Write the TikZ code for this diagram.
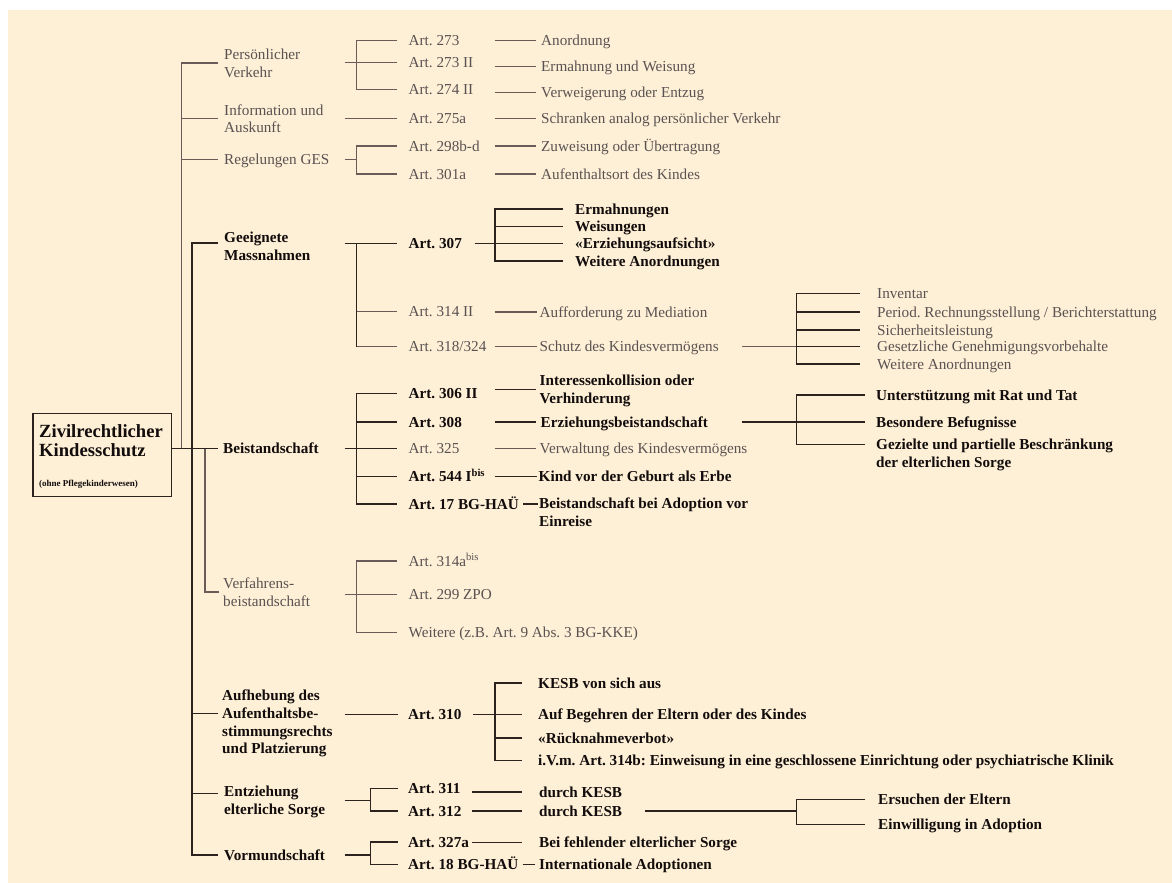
\documentclass[tikz,border=0pt]{standalone}
\usepackage{fontspec}
\setmainfont{Liberation Serif}
\frenchspacing
\definecolor{cream}{RGB}{254,240,214}
\definecolor{gtx}{RGB}{90,82,82}
\definecolor{gln}{RGB}{105,92,88}
\definecolor{dln}{RGB}{45,35,30}
\definecolor{dtx}{RGB}{18,12,12}
\tikzset{
 gl/.style={draw=gln, line width=1.2pt},
 dl/.style={draw=dln, line width=1.3pt},
 basetxt/.style={anchor=west, inner sep=0pt, font=\fontsize{15.2}{17.7}\selectfont},
 gt/.style={basetxt, text=gtx, text height=10pt, text depth=0pt},
 bt/.style={basetxt, font=\fontsize{15.2}{17.7}\selectfont\bfseries, text=dtx, text height=10pt, text depth=0pt},
 gmul/.style={basetxt, text=gtx, align=left, text depth=0pt},
 bmul/.style={basetxt, font=\fontsize{15.2}{17.7}\selectfont\bfseries, text=dtx, align=left, text depth=0pt},
}
\begin{document}
\begin{tikzpicture}[x=1pt,y=-1pt]
\useasboundingbox (0,0) rectangle (1172,883);
\fill[white] (0,0) rectangle (1172,883);
\fill[cream] (8.3,10) rectangle (1172,883);

% root
\node[draw=dln, line width=1.3pt, anchor=north west, minimum width=138.4pt, minimum height=83pt, inner sep=0pt] (root) at (32.3,413) {};
\node[anchor=north west, inner sep=0pt, align=left, font=\fontsize{18.6}{19.3}\selectfont\bfseries, text=dtx] (rootT) at (39,424.5) {Zivilrechtlicher\\Kindesschutz};
\node[anchor=base west, inner sep=0pt, font=\fontsize{9}{10}\selectfont\bfseries, text=dtx] (rootS) at (39,486.5) {(ohne Pflegekinderwesen)};

% level 1
\node[gmul] (nPV) at (224,63) {Persönlicher\\Verkehr};
\node[gmul] (nIA) at (224,118.5) {Information und\\Auskunft};
\node[gt] (nRG) at (224,159.5) {Regelungen GES};
\node[bmul] (nGM) at (224,246) {Geeignete\\Massnahmen};
\node[bt] (nBS) at (223,448.5) {Beistandschaft};
\node[gmul] (nVB) at (223,592) {Verfahrens-\\beistandschaft};
\node[bmul] (nAH) at (222,722) {Aufhebung des\\Aufenthaltsbe-\\stimmungsrechts\\und Platzierung};
\node[bmul] (nES) at (224,800.5) {Entziehung\\elterliche Sorge};
\node[bt] (nVM) at (224,855) {Vormundschaft};

% level 2
\node[gt] (a273) at (408.5,40.7) {Art. 273};
\node[gt] (a2732) at (408.5,62.7) {Art. 273 II};
\node[gt] (a274) at (408.5,89.5) {Art. 274 II};
\node[gt] (a275) at (408.5,118.3) {Art. 275a};
\node[gt] (a298) at (408.5,146) {Art. 298b-d};
\node[gt] (a301) at (408.5,174) {Art. 301a};
\node[bt] (a307) at (408.5,243.5) {Art. 307};
\node[gt] (a314) at (408.5,311.7) {Art. 314 II};
\node[gt] (a318) at (408.5,346.5) {Art. 318/324};
\node[bt] (a306) at (408.5,393.5) {Art. 306 II};
\node[bt] (a308) at (408.5,422) {Art. 308};
\node[gt] (a325) at (408.5,448.5) {Art. 325};
\node[bt] (a544) at (408.5,476.5) {Art. 544 I\textsuperscript{bis}};
\node[bt] (a17) at (408.5,504) {Art. 17 BG-HAÜ};
\node[gt] (a314a) at (408.5,561) {Art. 314a\textsuperscript{bis}};
\node[gt] (a299) at (408.5,594.5) {Art. 299 ZPO};
\node[gt] (awe) at (408.5,632.3) {Weitere (z.B. Art. 9 Abs. 3 BG-KKE)};
\node[bt] (a310) at (408,714.5) {Art. 310};
\node[bt] (a311) at (408,788.5) {Art. 311};
\node[bt] (a312) at (408,811) {Art. 312};
\node[bt] (a327) at (408,842) {Art. 327a};
\node[bt] (a18) at (408,864.5) {Art. 18 BG-HAÜ};

% level 3
\node[gt] (r1) at (541,40.7) {Anordnung};
\node[gt] (r2) at (541,66.5) {Ermahnung und Weisung};
\node[gt] (r3) at (541,92.5) {Verweigerung oder Entzug};
\node[gt] (r4) at (541,118.5) {Schranken analog persönlicher Verkehr};
\node[gt] (r5) at (541,146) {Zuweisung oder Übertragung};
\node[gt] (r6) at (541,174) {Aufenthaltsort des Kindes};
\node[bt] (e1) at (575,209) {Ermahnungen};
\node[bt] (e2) at (575,226.5) {Weisungen};
\node[bt] (e3) at (575,243.5) {«Erziehungsaufsicht»};
\node[bt] (e4) at (575,261) {Weitere Anordnungen};
\node[gt] (r7) at (539.5,312) {Aufforderung zu Mediation};
\node[gt] (r8) at (539.5,346.5) {Schutz des Kindesvermögens};
\node[gt] (i1) at (877,293.3) {Inventar};
\node[gt] (i2) at (877,312) {Period. Rechnungsstellung / Berichterstattung};
\node[gt] (i3) at (877,330) {Sicherheitsleistung};
\node[gt] (i4) at (877,346.5) {Gesetzliche Genehmigungsvorbehalte};
\node[gt] (i5) at (877,364) {Weitere Anordnungen};
\node[bmul] (x1) at (539.5,389.5) {Interessenkollision oder\\Verhinderung};
\node[bt] (x2) at (540.5,422) {Erziehungsbeistandschaft};
\node[gt] (x3) at (539.5,448.5) {Verwaltung des Kindesvermögens};
\node[bt] (x4) at (538.5,476.5) {Kind vor der Geburt als Erbe};
\node[bmul] (x5) at (539,512) {Beistandschaft bei Adoption vor\\Einreise};
\node[bt] (u1) at (876,395) {Unterstützung mit Rat und Tat};
\node[bt] (u2) at (876,422) {Besondere Befugnisse};
\node[bmul] (u3) at (876,453) {Gezielte und partielle Beschränkung\\der elterlichen Sorge};
\node[bt] (k1) at (538,683) {KESB von sich aus};
\node[bt] (k2) at (538,714.5) {Auf Begehren der Eltern oder des Kindes};
\node[bt] (k3) at (538,738) {«Rücknahmeverbot»};
\node[bt] (k4) at (538,760.7) {i.V.m. Art. 314b: Einweisung in eine geschlossene Einrichtung oder psychiatrische Klinik};
\node[bt] (d1) at (539,792) {durch KESB};
\node[bt] (d2) at (539,811) {durch KESB};
\node[bt] (s1) at (878,799.5) {Ersuchen der Eltern};
\node[bt] (s2) at (878,824.5) {Einwilligung in Adoption};
\node[bt] (v1) at (539,842.5) {Bei fehlender elterlicher Sorge};
\node[bt] (v2) at (539,864.5) {Internationale Adoptionen};

% coordinates of trunks and brackets
\coordinate (tG) at (181.7,0);
\coordinate (tD) at (192,0);
\coordinate (tV) at (205,0);
\coordinate (c2) at (344.5,0);
\coordinate (bk2) at (356.7,0);
\coordinate (bke) at (370.3,0);
\coordinate (c3) at (494.5,0);
\coordinate (bk3) at (495,0);
\coordinate (c3b) at (471.5,0);
\coordinate (c4) at (742,0);
\coordinate (bk4) at (796.5,0);
\coordinate (c5) at (645.4,0);

% trunks
\draw[gl] ([xshift=-6pt]nPV.west) -- (nPV.west -| tG) -- (tG |- nBS.west);
\draw[gl] ([xshift=-6pt]nIA.west) -- (nIA.west -| tG);
\draw[gl] ([xshift=-6pt]nRG.west) -- (nRG.west -| tG);
\coordinate (gmL) at ([xshift=-6pt,yshift=3pt]nGM.west);
\draw[dl] (gmL) -- (gmL -| tD) -- (tD |- nVM.west) -- ([xshift=-6pt]nVM.west);
\coordinate (ahL) at ([xshift=-4pt,yshift=8.5pt]nAH.west);
\draw[dl] (ahL) -- (ahL -| tD);
\coordinate (esL) at ([xshift=-6pt,yshift=7pt]nES.west);
\draw[dl] (esL) -- (esL -| tD);
\draw[dl] (root.east |- nBS.west) -- ([xshift=-5pt]nBS.west);
\draw[gl] (tV |- nBS.west) -- (tV |- nVB.west) -- ([xshift=-4pt]nVB.west);

% level 2 brackets
\draw[gl] (a2732.west -| c2) -- ([xshift=-11.5pt]a2732.west);
\draw[gl] ([xshift=-11.5pt]a273.west) -- (a273.west -| bk2) -- (a274.west -| bk2) -- ([xshift=-11.5pt]a274.west);
\draw[gl] (a275.west -| c2) -- ([xshift=-11.5pt]a275.west);
\draw[gl] ([xshift=-11.5pt]a298.west) -- (a298.west -| bk2) -- (a301.west -| bk2) -- ([xshift=-11.5pt]a301.west);
\draw[gl] (nRG.west -| c2) -- (nRG.west -| bk2);
\draw[dl] (a307.west -| c2) -- ([xshift=-11.5pt]a307.west);
\draw[dl] (a307.west -| bk2) -- (a318.west -| bk2);
\draw[gl] (a314.west -| bk2) -- ([xshift=-11.5pt]a314.west);
\draw[gl] (a318.west -| bk2) -- ([xshift=-11.5pt]a318.west);
\draw[dl] ([xshift=-11.5pt]a306.west) -- (a306.west -| bk2) -- (a17.west -| bk2) -- ([xshift=-11.5pt]a17.west);
\draw[dl] (a308.west -| bk2) -- ([xshift=-11.5pt]a308.west);
\draw[dl] (a325.west -| c2) -- ([xshift=-11.5pt]a325.west);
\draw[dl] (a544.west -| bk2) -- ([xshift=-11.5pt]a544.west);
\draw[gl] ([xshift=-11.5pt]a314a.west) -- (a314a.west -| bk2) -- (awe.west -| bk2) -- ([xshift=-11.5pt]awe.west);
\draw[gl] (a299.west -| c2) -- ([xshift=-11.5pt]a299.west);
\draw[dl] (a310.west -| c2) -- ([xshift=-10.5pt]a310.west);
\draw[dl] (c2 |- nES.west) -- (bke |- nES.west);
\draw[dl] ([xshift=-10.5pt]a311.west) -- (a311.west -| bke) -- (a312.west -| bke) -- ([xshift=-10.5pt]a312.west);
\draw[dl] (c2 |- nVM.west) -- (bke |- nVM.west);
\draw[dl] ([xshift=-10.5pt]a327.west) -- (a327.west -| bke) -- (a18.west -| bke) -- ([xshift=-10.5pt]a18.west);

% level 3 connectors
\foreach \n in {r1,r2,r3,r4,r5,r6} {\draw[gl] (\n.west -| c3) -- ([xshift=-5pt]\n.west);}
\coordinate (a307R) at ([xshift=12.5pt]a307.east);
\draw[dl] (a307R) -- ([xshift=-12pt]e3.west);
\draw[dl] ([xshift=-12pt]e1.west) -- (e1.west -| bk3) -- (e4.west -| bk3) -- ([xshift=-12pt]e4.west);
\draw[dl] (e2.west -| bk3) -- ([xshift=-12pt]e2.west);
\draw[gl] (r7.west -| c3) -- ([xshift=-3pt]r7.west);
\draw[gl] (r8.west -| c3) -- ([xshift=-3pt]r8.west);
\draw[gl] (c4 |- i4.west) -- (bk4 |- i4.west);
\draw[dl] ([xshift=-17pt]i1.west) -- (i1.west -| bk4) -- (i5.west -| bk4) -- ([xshift=-17pt]i5.west);
\foreach \n in {i2,i3,i4} {\draw[dl] (\n.west -| bk4) -- ([xshift=-17pt]\n.west);}
\draw[dl] (c3 |- x1.west) -- ([xshift=-3.5pt]x1.west);
\draw[dl] (c3 |- x2.west) -- ([xshift=-4.5pt]x2.west);
\draw[gl] (c3 |- x3.west) -- ([xshift=-3.5pt]x3.west);
\draw[dl] (c3 |- x4.west) -- ([xshift=-2pt]x4.west);
\coordinate (x5L) at ([yshift=8pt]x5.west);
\coordinate (a17R) at ([xshift=4pt]a17.east);
\draw[dl] (a17R |- x5L) -- ([xshift=-1.5pt]x5L);
\draw[dl] (c4 |- x2.west) -- (bk4 |- x2.west);
\coordinate (u3L) at ([yshift=8.5pt]u3.west);
\draw[dl] ([xshift=-11pt]u1.west) -- (u1.west -| bk4) -- (u3L -| bk4) -- ([xshift=-11pt]u3L);
\draw[dl] (u2.west -| bk4) -- ([xshift=-11pt]u2.west);
\coordinate (a310R) at ([xshift=11.5pt]a310.east);
\draw[dl] (a310R) -- ([xshift=-16.5pt]k2.west);
\draw[dl] ([xshift=-16.5pt]k1.west) -- (k1.west -| bk3) -- (k4.west -| bk3) -- ([xshift=-16.5pt]k4.west);
\draw[dl] (k3.west -| bk3) -- ([xshift=-16.5pt]k3.west);
\draw[dl] (c3b |- d1.west) -- ([xshift=-17.5pt]d1.west);
\draw[dl] (c3b |- d2.west) -- ([xshift=-17.5pt]d2.west);
\draw[dl] (c5 |- d2.west) -- (bk4 |- d2.west);
\draw[dl] ([xshift=-13pt]s1.west) -- (s1.west -| bk4) -- (s2.west -| bk4) -- ([xshift=-13pt]s2.west);
\draw[dl] (c3b |- v1.west) -- ([xshift=-17.5pt]v1.west);
\coordinate (a18R) at ([xshift=4pt]a18.east);
\draw[dl] (a18R |- v2.west) -- ([xshift=-4.5pt]v2.west);
\end{tikzpicture}
\end{document}
